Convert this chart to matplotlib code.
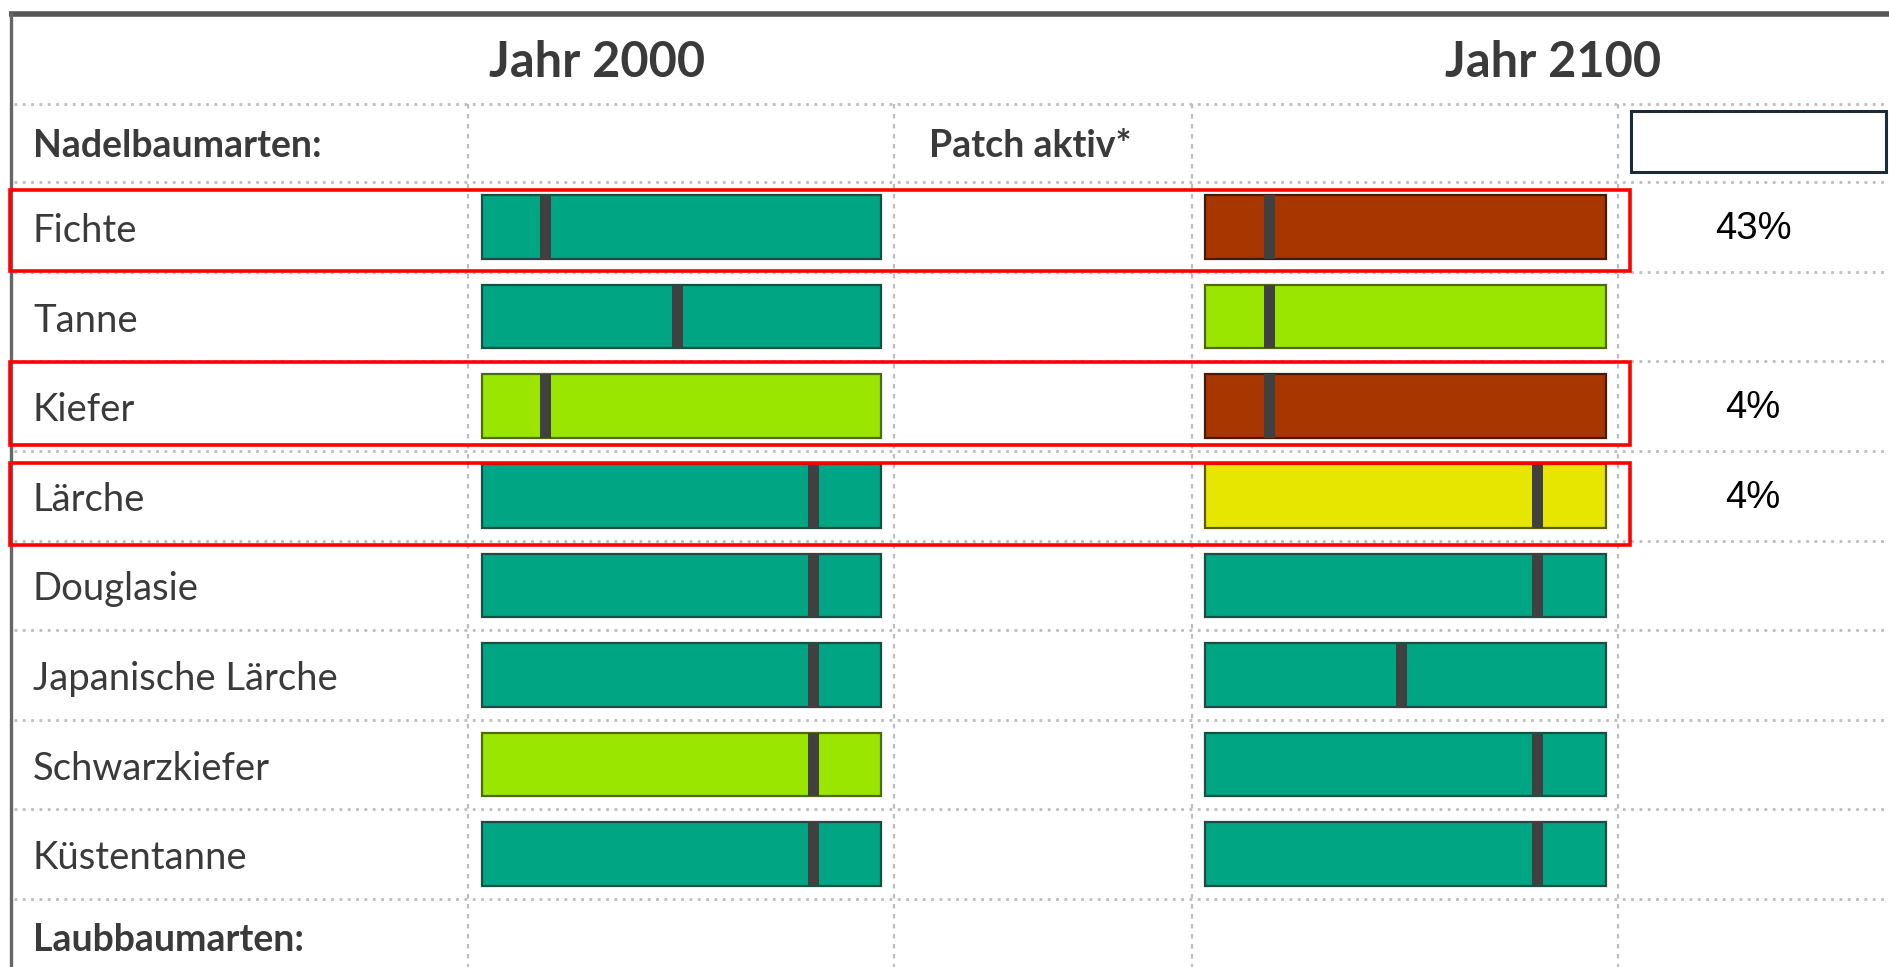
import numpy as np
import matplotlib
matplotlib.use("Agg")
import matplotlib.pyplot as plt
from matplotlib.patches import Rectangle

# Data
# ---------------------------------------
species = ["Fichte", "Tanne", "Kiefer", "Lärche", "Douglasie",
           "Japanische Lärche", "Schwarzkiefer", "Küstentanne"]
# suitability class per species: g = green (teal), l = light green, y = yellow, r = red/brown
class_2000 = ["g", "g", "l", "g", "g", "g", "l", "g"]
class_2100 = ["r", "l", "r", "y", "g", "g", "g", "g"]
# position of the dark marker inside the bar (0..1)
marker_2000 = [0.16, 0.49, 0.16, 0.83, 0.83, 0.83, 0.83, 0.83]
marker_2100 = [0.16, 0.16, 0.16, 0.83, 0.83, 0.49, 0.83, 0.83]
share_2100 = ["43%", "", "4%", "4%", "", "", "", ""]
highlighted = ["Fichte", "Kiefer", "Lärche"]

headers = ["Jahr 2000", "Jahr 2100"]
group_labels = ["Nadelbaumarten:", "Laubbaumarten:"]
patch_label = "Patch aktiv*"

# Styles
# ---------------------------------------
fill = {"g": "#00a583", "l": "#9be600", "y": "#e6e600", "r": "#a83600"}
edge = {"g": "#1d4c42", "l": "#4d6a10", "y": "#5e5a10", "r": "#4a1a05"}
text_col = "#3a3a3a"
grid_col = "#bdbdbd"
W, H = 1890, 967

# layout in pixels
row0, pitch = 227.0, 89.6
rows_y = row0 + pitch * np.arange(len(species))
bounds = np.r_[104.0, row0 - pitch / 2 + pitch * np.arange(len(species) + 1)]
vlines_x = [468, 894, 1192, 1618]
col_2000 = (482, 881)
col_2100 = (1205, 1606)
rect_y = {"Fichte": (190, 271), "Kiefer": (362, 445), "Lärche": (463, 545)}

fig = plt.figure(figsize=(W / 100, H / 100), dpi=100)
ax = fig.add_axes([0, 0, 1, 1])
ax.set_xlim(0, W)
ax.set_ylim(H, 0)
ax.axis("off")

# frame
ax.plot([9, W], [14, 14], color="#555555", lw=4, solid_capstyle="butt")
ax.plot([11, 11], [12, H], color="#666666", lw=2.4, solid_capstyle="butt")

# dotted grid
for yb in bounds:
    ax.plot([14, W], [yb, yb], color=grid_col, lw=2.0, ls=(0, (1, 2)))
for xv in vlines_x:
    ax.plot([xv, xv], [104, H], color=grid_col, lw=1.6, ls=(0, (2, 2.5)))

# headers
ax.text(597, 77, headers[0], fontsize=35, fontweight="bold", family="Lato",
        color=text_col, ha="center", va="baseline")
ax.text(1553, 77, headers[1], fontsize=35, fontweight="bold", family="Lato",
        color=text_col, ha="center", va="baseline")
ax.text(33, 157, group_labels[0], fontsize=27, fontweight="bold", family="Lato",
        color=text_col, va="baseline")
ax.text(929, 157, patch_label, fontsize=27, fontweight="bold", family="Lato",
        color=text_col, va="baseline")
ax.text(33, 951, group_labels[1], fontsize=27, fontweight="bold", family="Lato",
        color=text_col, va="baseline")

# empty box top right
ax.add_patch(Rectangle((1631, 111), 255, 61, fill=False, edgecolor="#1c2b36", lw=2.2))

# species labels
for name, yc in zip(species, rows_y):
    ax.text(33, yc + 15, name, fontsize=27.5, family="Lato", color=text_col, va="baseline")

# share labels
for s, yc in zip(share_2100, rows_y):
    if s:
        ax.text(1753, yc + 2, s, fontsize=27.5, family="Liberation Sans", color="black",
                ha="center", va="center")


# bar columns, each its own axes with a 0..1 scale
def bar_column(x0, x1, classes, markers):
    bax = fig.add_axes([x0 / W, 1 - bounds[-1] / H, (x1 - x0) / W, (bounds[-1] - bounds[1]) / H])
    bax.set_xlim(0, 1)
    bax.set_ylim(len(species) - 0.5, -0.5)
    bax.axis("off")
    idx = np.arange(len(species))
    bars = bax.barh(idx, 1, left=0, height=0.71,
                    color=[fill[c] for c in classes],
                    edgecolor=[edge[c] for c in classes], linewidth=1.6)
    for b in bars:
        b.set_clip_on(False)
    mw = 11 / (x1 - x0)
    bax.barh(idx, mw, left=np.array(markers) - mw / 2, height=0.71, color="#404040")
    return bax


bar_column(*col_2000, class_2000, marker_2000)
bar_column(*col_2100, class_2100, marker_2100)

# red highlight boxes, on an overlay so they sit above the bar columns
top = fig.add_axes([0, 0, 1, 1], facecolor="none")
top.set_xlim(0, W)
top.set_ylim(H, 0)
top.axis("off")
for name in highlighted:
    y0, y1 = rect_y[name]
    top.add_patch(Rectangle((10, y0), 1620, y1 - y0, fill=False, edgecolor="#ff0000", lw=2.6))

fig.savefig("out.png", dpi=100)
